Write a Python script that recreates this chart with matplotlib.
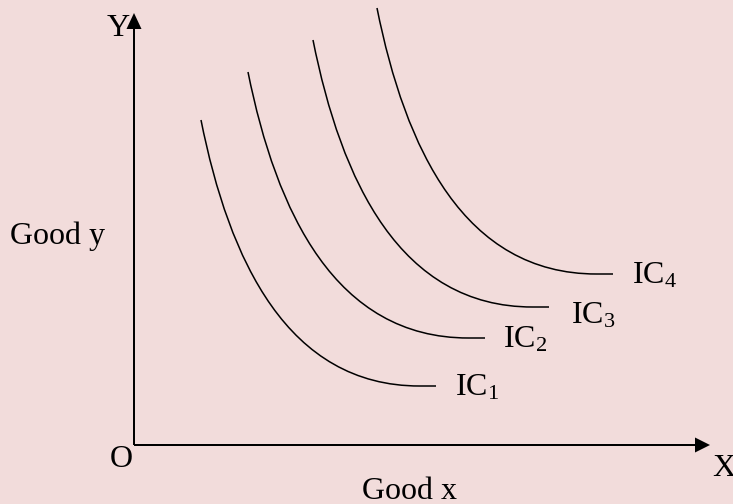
import matplotlib.pyplot as plt
from matplotlib.path import Path
from matplotlib.patches import PathPatch

plt.rcParams['font.family'] = ['Liberation Serif', 'DejaVu Serif']
plt.rcParams['mathtext.fontset'] = 'custom'
plt.rcParams['mathtext.rm'] = 'Liberation Serif'

# indifference curves: where each one starts (top) and ends (right)
curve_names = ['IC_1', 'IC_2', 'IC_3', 'IC_4']
start_x = [67, 114, 179, 243]
start_y = [325, 373, 405, 437]
end_x = [302, 351, 415, 479]
end_y = [59, 107, 138, 171]

# label positions (left, baseline)
label_x = [321, 369, 437, 498]
label_y = [50, 97, 122, 161]

x_axis_len = 576
y_axis_len = 432

bg = '#F2DCDB'
fig = plt.figure(figsize=(7.33, 5.04), dpi=100, facecolor=bg)
ax = fig.add_axes([0, 0, 1, 1])
ax.set_facecolor(bg)
ax.set_xlim(-134, 599)
ax.set_ylim(-59, 445)
ax.set_aspect('equal')
ax.axis('off')

# axes with arrow heads
ax.arrow(0, 0, x_axis_len, 0, width=2, head_width=15, head_length=15,
         length_includes_head=True, color='black', lw=0)
ax.arrow(0, 0, 0, y_axis_len, width=2, head_width=15, head_length=16,
         length_includes_head=True, color='black', lw=0)

for i in range(len(curve_names)):
    x0, y0 = start_x[i], start_y[i]
    x1, y1 = end_x[i], end_y[i]
    w = x1 - x0
    h = y0 - y1
    verts = [(x0, y0),
             (x0 + 0.12 * w, y0 - 0.53 * h),
             (x0 + 0.37 * w, y1),
             (x0 + 0.93 * w, y1),
             (x1, y1)]
    codes = [Path.MOVETO, Path.CURVE4, Path.CURVE4, Path.CURVE4, Path.LINETO]
    ax.add_patch(PathPatch(Path(verts, codes), fill=False, lw=1.1, color='black'))
    ax.text(label_x[i], label_y[i], r'$\mathregular{' + curve_names[i] + '}$',
            fontsize=23, ha='left', va='baseline')

fs = 23
ax.text(-27, 409, 'Y', fontsize=fs, ha='left', va='baseline')
ax.text(-24, -22, 'O', fontsize=fs, ha='left', va='baseline')
ax.text(578, -31, 'X', fontsize=fs, ha='left', va='baseline')
ax.text(228, -54, 'Good x', fontsize=fs, ha='left', va='baseline')
ax.text(-124, 201, 'Good y', fontsize=fs, ha='left', va='baseline')

fig.savefig('out.png', dpi=100, facecolor=bg)
